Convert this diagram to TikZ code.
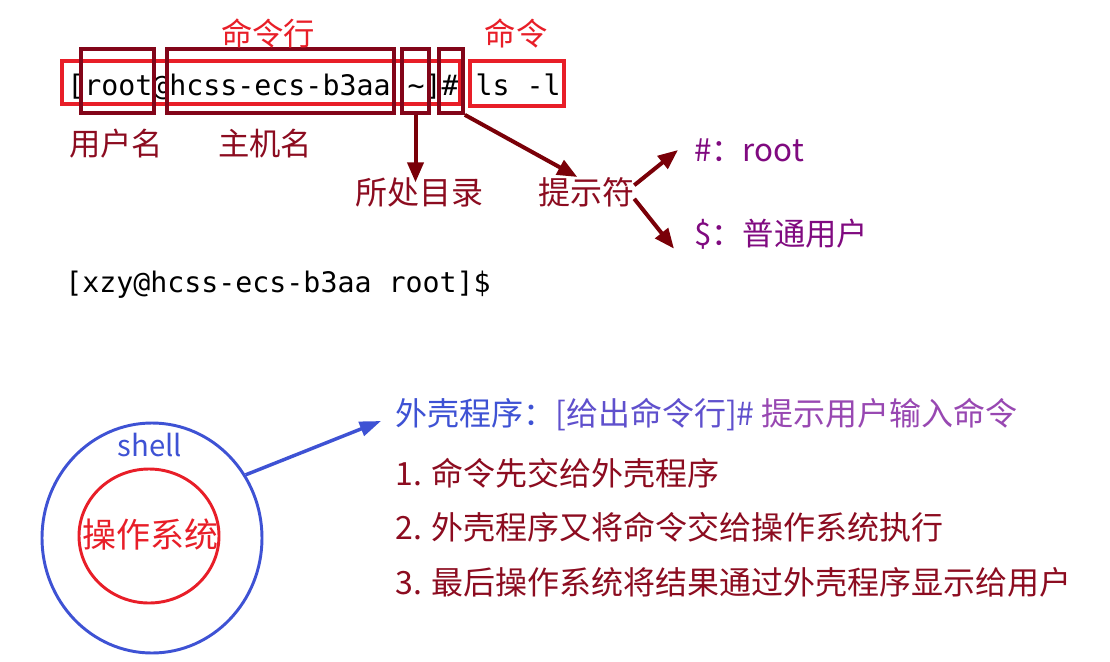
\documentclass[tikz,border=0pt]{standalone}
\usepackage{fontspec}
\setmainfont{Noto Sans CJK SC}
\setmonofont{DejaVu Sans Mono}
\usetikzlibrary{arrows.meta,shapes.geometric}
\definecolor{cred}{RGB}{232,30,40}
\definecolor{cdark}{RGB}{130,5,25}
\definecolor{ctext}{RGB}{140,12,32}
\definecolor{carrow}{RGB}{122,0,8}
\definecolor{cpurple}{RGB}{128,10,128}
\definecolor{cblue}{RGB}{62,82,212}
\definecolor{cindigo}{RGB}{95,80,205}
\definecolor{cviolet}{RGB}{152,72,178}
\tikzset{
  mono/.style={inner sep=0, font=\ttfamily\fontsize{21.2}{25}\selectfont},
  lbl/.style={inner sep=0, font=\fontsize{23.5}{28}\selectfont},
  big/.style={inner sep=0, font=\fontsize{24}{29}\selectfont},
  redbox/.style={draw=cred, line width=2.5pt, inner sep=0},
  darkbox/.style={draw=cdark, line width=2.8pt, inner sep=0},
  darr/.style={draw=carrow, line width=3pt, -{Triangle[length=15pt,width=12pt]}},
  barr/.style={draw=cblue, line width=2.6pt, -{Triangle[length=16pt,width=11pt]}}
}
\begin{document}
\begin{tikzpicture}[x=0.75pt,y=-0.75pt]
\fill[white] (0,0) rectangle (1110,661);
\useasboundingbox (0,0) rectangle (1110,661);
% terminal lines
\node[mono, anchor=base west] (cmd) at (67,95) {[root@hcss-ecs-b3aa \textasciitilde]\# ls -l};
\node[mono, anchor=base west] (cmd2) at (65,292) {[xzy@hcss-ecs-b3aa root]\$};
% boxes
\node[redbox, minimum width=298.5pt, minimum height=32.25pt] (line) at (261,82.5) {};
\node[darkbox, minimum width=54.75pt, minimum height=48pt] (user) at (117.5,81) {};
\node[darkbox, minimum width=170.25pt, minimum height=48pt] (host) at (280.5,81) {};
\node[darkbox, minimum width=20.25pt, minimum height=48pt] (tilde) at (415.5,81) {};
\node[darkbox, minimum width=18pt, minimum height=48pt] (hash) at (451,81) {};
\node[redbox, minimum width=70.5pt, minimum height=33.75pt] (lsbox) at (517,83.5) {};
% labels
\node[lbl, text=cred] (lcmdline) at (268,33) {命令行};
\node[lbl, text=cred] (lcmd) at (516,33) {命令};
\node[lbl, text=ctext] (luser) at (116,144) {用户名};
\node[lbl, text=ctext] (lhost) at (265,144) {主机名};
\node[big, text=ctext] (dir) at (419,192) {所处目录};
\node[big, text=ctext] (prompt) at (586,192) {提示符};
\node[lbl, text=cpurple, anchor=west] (rootl) at (694,150) {\#：root};
\node[lbl, text=cpurple, anchor=west] (userl) at (694,234) {\$：普通用户};
% arrows
\draw[darr, shorten >=-4pt] (tilde.south) -- (tilde.south |- dir.north);
\draw[darr] (hash.south east) -- (prompt.120);
\draw[darr] (prompt.8) -- ([xshift=-12pt]rootl.west);
\draw[darr] (prompt.-8) -- ([xshift=-15pt,yshift=-11pt]userl.west);
% bottom
\node[ellipse, draw=cblue, line width=2.2pt, minimum width=165pt, minimum height=172.5pt, inner sep=0] (outer) at (152,538) {};
\node[ellipse, draw=cred, line width=2.2pt, minimum width=105pt, minimum height=100.5pt, inner sep=0] (inner) at (149,536) {};
\node[lbl, text=cblue, font=\fontsize{22}{26}\selectfont] (shell) at (150,445) {shell};
\node[inner sep=0, text=cred, font=\fontsize{25.5}{30}\selectfont] (os) at (150,535) {操作系统};
\node[big, anchor=west] (l1) at (395,415) {\textcolor{cblue}{外壳程序：}\textcolor{cindigo}{[给出命令行]\#} \textcolor{cviolet}{提示用户输入命令}};
\node[big, anchor=west, text=ctext] (l2) at (395,473) {1. 命令先交给外壳程序};
\node[big, anchor=west, text=ctext] (l3) at (395,527) {2. 外壳程序又将命令交给操作系统执行};
\node[big, anchor=west, text=ctext] (l4) at (395,582) {3. 最后操作系统将结果通过外壳程序显示给用户};
\draw[barr] (outer.34) -- ([xshift=-10.5pt,yshift=-4.5pt]l1.west);
\end{tikzpicture}
\end{document}
